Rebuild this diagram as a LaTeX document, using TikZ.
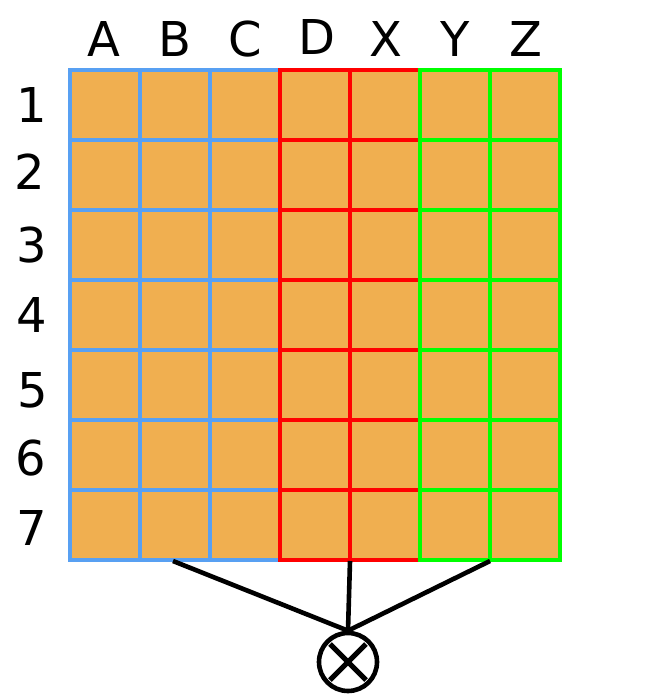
\documentclass[tikz,border=0pt]{standalone}
\usepackage{fontspec}
\setmainfont{DejaVu Sans}
\usetikzlibrary{calc}
\definecolor{cellfill}{HTML}{F0AF50}
\definecolor{gblue}{HTML}{58A0F2}
\definecolor{gred}{HTML}{FF0000}
\definecolor{ggreen}{HTML}{00FF00}
\begin{document}
\begin{tikzpicture}[x=1pt,y=-1pt,
  cell/.style={draw=#1, fill=cellfill, line width=3.4pt, minimum size=70pt, inner sep=0pt, outer sep=0pt, shape=rectangle},
  lbl/.style={anchor=base, inner sep=0pt, font=\fontsize{48}{48}\selectfont},
  conn/.style={line width=4.6pt},
  op/.style={draw, circle, line width=4.6pt, minimum size=58pt, inner sep=0pt}]
\useasboundingbox (0,0) rectangle (653,700);
% cells
\foreach \c/\col in {0/gblue,1/gblue,2/gblue} {
  \foreach \r in {0,...,6} {
    \node[cell=\col] (c\c-\r) at ({105+70*\c},{105+70*\r}) {};
  }
}
\foreach \c/\col in {3/gred,4/gred} {
  \foreach \r in {0,...,6} {
    \node[cell=\col] (c\c-\r) at ({105+70*\c},{105+70*\r}) {};
  }
}
\foreach \c/\col in {5/ggreen,6/ggreen} {
  \foreach \r in {0,...,6} {
    \node[cell=\col] (c\c-\r) at ({105+70*\c},{105+70*\r}) {};
  }
}
% column labels
\node[lbl] (lA) at (104,57) {A};
\node[lbl] (lB) at (175,57) {B};
\node[lbl] (lC) at (245,57) {C};
\node[lbl] (lD) at (317,55) {D};
\node[lbl] (lX) at (386,57) {X};
\node[lbl] (lY) at (455,57) {Y};
\node[lbl] (lZ) at (526,57) {Z};
% row labels
\node[lbl] (r1) at (32,123) {1};
\node[lbl] (r2) at (30,190) {2};
\node[lbl] (r3) at (32,262) {3};
\node[lbl] (r4) at (32,332) {4};
\node[lbl] (r5) at (33,407) {5};
\node[lbl] (r6) at (31,475) {6};
\node[lbl] (r7) at (32,545) {7};
% group bottoms
\coordinate (gABC) at (173,561);
\coordinate (gDX) at (350,561);
\coordinate (gYZ) at (490,561);
% operator
\node[op] (op) at (348,662) {};
\draw[line width=5pt] ($(op.center)+(-18,-18)$) -- ($(op.center)+(18,18)$);
\draw[line width=5pt] ($(op.center)+(-18,18)$) -- ($(op.center)+(18,-18)$);
\draw[conn] (gABC) -- (op.north);
\draw[conn] (gDX) -- (op.north);
\draw[conn] (gYZ) -- (op.north);
\end{tikzpicture}
\end{document}
